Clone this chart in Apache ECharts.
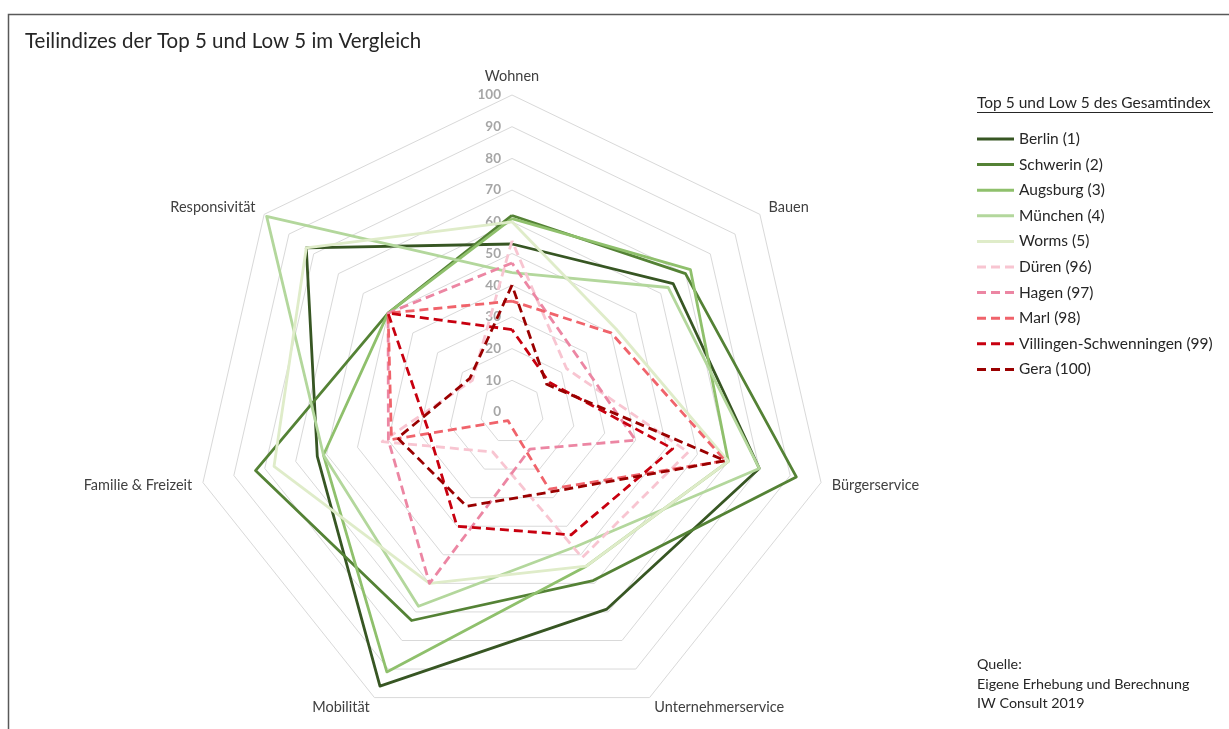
<!DOCTYPE html>
<html>
<head>
<meta charset="utf-8">
<script src="https://cdn.jsdelivr.net/npm/echarts@6/dist/echarts.min.js"></script>
<style>
  html, body { margin: 0; padding: 0; background: #fff; }
  #main { width: 1229px; height: 729px; }
</style>
</head>
<body>
<div id="main"></div>
<script>
// Kategorien (im Uhrzeigersinn, wie im Original)
var categories = ['Wohnen', 'Bauen', 'Bürgerservice', 'Unternehmerservice', 'Mobilität', 'Familie & Freizeit', 'Responsivität'];
var ticks = [0, 10, 20, 30, 40, 50, 60, 70, 80, 90, 100];

var cityNames = ['Berlin (1)', 'Schwerin (2)', 'Augsburg (3)', 'München (4)', 'Worms (5)',
  'Düren (96)', 'Hagen (97)', 'Marl (98)', 'Villingen-Schwenningen (99)', 'Gera (100)'];

// Werte je Stadt, gleiche Reihenfolge wie categories
var berlin    = [53, 65, 80, 69, 96, 63, 83];
var schwerin  = [62, 70, 92, 59, 73, 83, 50];
var augsburg  = [61, 72, 70, 54, 91, 61, 50];
var muenchen  = [44, 63, 80, 47, 68, 61, 99];
var worms     = [60, 42, 70, 54, 60, 77, 83];
var dueren    = [54, 22, 57, 51, 14, 42, 16];
var hagen     = [47, 27, 40, 13, 60, 40, 50];
var marl      = [35, 40, 69, 27, 3, 39, 50];
var villingen = [26, 15, 52, 43, 40, 27, 50];
var gera      = [40, 14, 69, 28, 33, 37, 17];

var cityValues = [berlin, schwerin, augsburg, muenchen, worms, dueren, hagen, marl, villingen, gera];
var cityColors = ['#375623', '#548235', '#8fc06c', '#b3d79c', '#dfecc9',
  '#f8c5d1', '#ec86a3', '#f0636b', '#c8000f', '#9a0000'];
var dashed = [false, false, false, false, false, true, true, true, true, true];

// echarts legt die Achsen gegen den Uhrzeigersinn an -> umsortieren
var order = [0, 6, 5, 4, 3, 2, 1];
function reorder(arr) {
  return order.map(function (i) { return arr[i]; });
}

var indicators = reorder(categories).map(function (name, k) {
  return {
    name: name,
    min: ticks[0],
    max: ticks[ticks.length - 1],
    axisLabel: { show: k === 0 }
  };
});

var seriesData = cityNames.map(function (name, i) {
  return {
    name: name,
    value: reorder(cityValues[i]),
    symbol: 'none',
    lineStyle: {
      color: cityColors[i],
      width: 2.8,
      type: dashed[i] ? [9, 5] : 'solid'
    },
    itemStyle: { color: cityColors[i] }
  };
});

var solidIcon = 'path://M0,0h37v3h-37z';
var dashIcon = 'path://M0,0h9v3h-9zM14,0h9v3h-9zM28,0h9v3h-9z';

var chart = echarts.init(document.getElementById('main'));
chart.setOption({
  backgroundColor: '#fff',
  animation: false,
  title: [{
    text: 'Teilindizes der Top 5 und Low 5 im Vergleich',
    left: 25, top: 31, padding: 0,
    textStyle: { fontFamily: 'Lato', fontSize: 20.5, fontWeight: 'normal', color: '#262626' }
  }, {
    text: 'Top 5 und Low 5 des Gesamtindex',
    left: 977, top: 95, padding: 0,
    textStyle: { fontFamily: 'Lato', fontSize: 15.5, fontWeight: 'normal', color: '#262626' }
  }, {
    text: 'Quelle:\nEigene Erhebung und Berechnung\nIW Consult 2019',
    left: 977, top: 655, padding: 0,
    textStyle: { fontFamily: 'Lato', fontSize: 14.3, fontWeight: 'normal', color: '#262626', lineHeight: 19.5 }
  }],
  legend: {
    orient: 'vertical',
    left: 977, top: 131, padding: 0,
    itemWidth: 37, itemHeight: 3,
    itemGap: 9.6,
    textStyle: { fontFamily: 'Lato', fontSize: 15.5, color: '#262626', lineHeight: 16 },
    data: cityNames.map(function (name, i) {
      return { name: name, icon: dashed[i] ? dashIcon : solidIcon, itemStyle: { color: cityColors[i], borderWidth: 0 } };
    })
  },
  graphic: [{
    type: 'rect',
    shape: { x: 8.5, y: 14.5, width: 1240, height: 740 },
    style: { fill: 'none', stroke: '#595959', lineWidth: 1.5 },
    silent: true
  }, {
    type: 'line',
    shape: { x1: 977, y1: 112.5, x2: 1213, y2: 112.5 },
    style: { stroke: '#262626', lineWidth: 1 },
    silent: true
  }],
  radar: {
    center: [512, 412],
    radius: 317,
    startAngle: 90,
    splitNumber: ticks.length - 1,
    shape: 'polygon',
    indicator: indicators,
    axisName: { color: '#404040', fontFamily: 'Lato', fontSize: 14.5 },
    nameGap: 11,
    axisLine: { show: false },
    axisTick: { show: false },
    splitArea: { show: false },
    splitLine: { lineStyle: { color: '#d9d9d9', width: 1 } },
    axisLabel: { show: true, color: '#a6a6a6', fontFamily: 'Lato', fontSize: 13.5, fontWeight: 'bold', margin: 11 }
  },
  series: [{
    type: 'radar',
    symbol: 'none',
    data: seriesData
  }]
});
</script>
</body>
</html>
